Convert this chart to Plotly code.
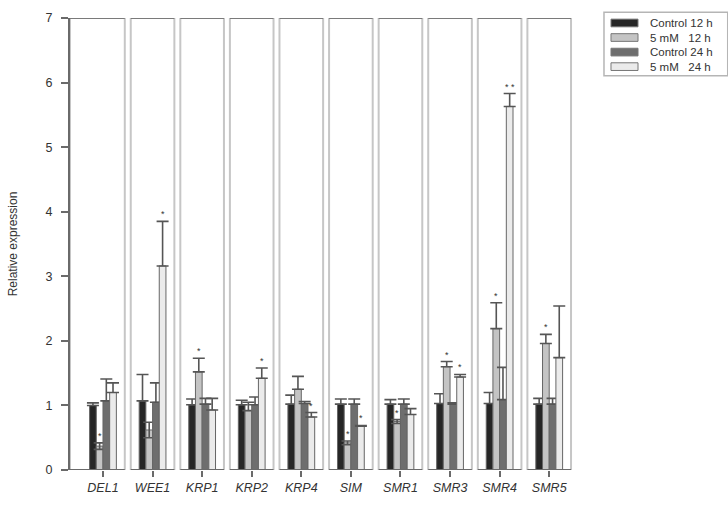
import plotly.graph_objects as go

# ---------------- data ----------------
genes = ["DEL1", "WEE1", "KRP1", "KRP2", "KRP4", "SIM", "SMR1", "SMR3", "SMR4", "SMR5"]
series_names = ["Control 12 h", "5 mM\u00a0\u00a0 12 h", "Control 24 h", "5 mM\u00a0\u00a0 24 h"]

ctrl12 = [1.00, 1.07, 1.01, 1.01, 1.02, 1.02, 1.02, 1.03, 1.03, 1.02]
ctrl12_err = [0.04, 0.41, 0.09, 0.07, 0.14, 0.08, 0.07, 0.15, 0.17, 0.09]

mm12 = [0.37, 0.62, 1.52, 0.92, 1.25, 0.42, 0.75, 1.60, 2.19, 1.96]
mm12_err = [0.05, 0.12, 0.21, 0.13, 0.20, 0.03, 0.03, 0.08, 0.40, 0.14]
mm12_err_down = [0.05, 0.12, 0.0, 0.0, 0.0, 0.03, 0.03, 0.0, 0.0, 0.0]

ctrl24 = [1.07, 1.05, 1.02, 1.01, 1.03, 1.02, 1.02, 1.02, 1.09, 1.02]
ctrl24_err = [0.34, 0.30, 0.09, 0.12, 0.03, 0.08, 0.08, 0.02, 0.50, 0.09]

mm24 = [1.20, 3.16, 0.93, 1.42, 0.82, 0.68, 0.86, 1.44, 5.63, 1.74]
mm24_err = [0.15, 0.69, 0.18, 0.16, 0.07, 0.01, 0.09, 0.04, 0.20, 0.80]

mm12_sig = ["*", "", "*", "", "", "*", "*", "*", "*", "*"]
mm24_sig = ["", "*", "", "*", "*", "*", "", "*", "* *", ""]

y_ticks = [0, 1, 2, 3, 4, 5, 6, 7]

# ---------------- style ----------------
colors = ["#262626", "#c4c4c4", "#6e6e6e", "#ebebeb"]
BARGAP = 0.46
BAR_W = (1 - BARGAP) / 4
X_LEFT = -0.665
X_RIGHT = 9.5
PANEL_HALF = 0.44
ERR_COLOR = "#555555"
FONT = "Liberation Sans, Arial, sans-serif"

# legend box geometry (paper coordinates)
LEG_X0, LEG_X1 = 1.0595, 1.305
LEG_Y0, LEG_Y1 = 0.872, 1.0128
LEG_SW_X0, LEG_SW_X1 = 1.0734, 1.127
LEG_TEXT_X = 1.147
LEG_ROW0 = 0.989
LEG_ROW_STEP = 0.0322
LEG_SW_H = 0.0085

values = [ctrl12, mm12, ctrl24, mm24]
errs_up = [ctrl12_err, mm12_err, ctrl24_err, mm24_err]
errs_down = [[0] * len(genes), mm12_err_down, [0] * len(genes), [0] * len(genes)]

fig = go.Figure()
for k in range(4):
    fig.add_trace(go.Bar(
        x=genes, y=values[k], name=series_names[k], showlegend=False,
        marker=dict(color=colors[k], line=dict(color="#666666", width=1)),
        error_y=dict(type="data", symmetric=False, array=errs_up[k], arrayminus=errs_down[k],
                     color=ERR_COLOR, thickness=1.6, width=6),
    ))

# significance asterisks
ann = []
for k, sig in ((1, mm12_sig), (3, mm24_sig)):
    for i, s in enumerate(sig):
        if s:
            ann.append(dict(
                x=i + (k - 1.5) * BAR_W, y=values[k][i] + errs_up[k][i],
                xref="x", yref="y", text=s, showarrow=False,
                yanchor="bottom", yshift=0,
                font=dict(size=9, color="#333333", family=FONT),
            ))

# panels
shapes = []
for i in range(len(genes)):
    x0 = X_LEFT if i == 0 else i - PANEL_HALF
    x1 = i + PANEL_HALF
    shapes.append(dict(type="rect", xref="x", yref="y", x0=x0, x1=x1, y0=0, y1=7,
                       line=dict(color="#c6c6c6", width=2), layer="below"))
    shapes.append(dict(type="line", xref="x", yref="y", x0=x0, x1=x1, y0=7, y1=7,
                       line=dict(color="#7a7a7a", width=2), layer="below"))
    shapes.append(dict(type="line", xref="x", yref="y", x0=x0, x1=x1, y0=0, y1=0,
                       line=dict(color="#6a6a6a", width=2), layer="above"))

# legend (box, swatches, labels)
shapes.append(dict(type="rect", xref="paper", yref="paper", x0=LEG_X0, x1=LEG_X1,
                   y0=LEG_Y0, y1=LEG_Y1, line=dict(color="#b5b5b5", width=1.5),
                   fillcolor="white"))
for k, name in enumerate(series_names):
    yc = LEG_ROW0 - k * LEG_ROW_STEP
    shapes.append(dict(type="rect", xref="paper", yref="paper",
                       x0=LEG_SW_X0, x1=LEG_SW_X1, y0=yc - LEG_SW_H, y1=yc + LEG_SW_H,
                       fillcolor=colors[k], line=dict(color="#777777", width=1)))
    ann.append(dict(x=LEG_TEXT_X, y=yc, xref="paper", yref="paper", text=name,
                    showarrow=False, xanchor="left", yanchor="middle",
                    font=dict(size=11.5, color="#333333", family=FONT)))

fig.update_layout(
    width=728, height=506,
    margin=dict(l=70, r=154, t=11, b=26),
    paper_bgcolor="white", plot_bgcolor="white",
    barmode="group", bargap=BARGAP, bargroupgap=0,
    font=dict(family=FONT, color="#333333", size=12),
    shapes=shapes, annotations=ann,
    showlegend=False,
    xaxis=dict(type="category", range=[X_LEFT, X_RIGHT], showgrid=False, zeroline=False,
               showline=False, ticks="outside", ticklen=6, tickwidth=1.5, tickcolor="#6a6a6a",
               tickfont=dict(size=12.5, style="italic", color="#333333")),
    yaxis=dict(range=[0, 7], tickvals=y_ticks, showgrid=False, zeroline=False,
               showline=True, linecolor="#6a6a6a", linewidth=2,
               ticks="outside", ticklen=7, tickwidth=1.5, tickcolor="#6a6a6a",
               ticklabelstandoff=6,
               tickfont=dict(size=12.5, color="#333333"),
               title=dict(text="Relative expression", font=dict(size=12, color="#333333"),
                          standoff=25)),
)

fig.write_html("out.html")
